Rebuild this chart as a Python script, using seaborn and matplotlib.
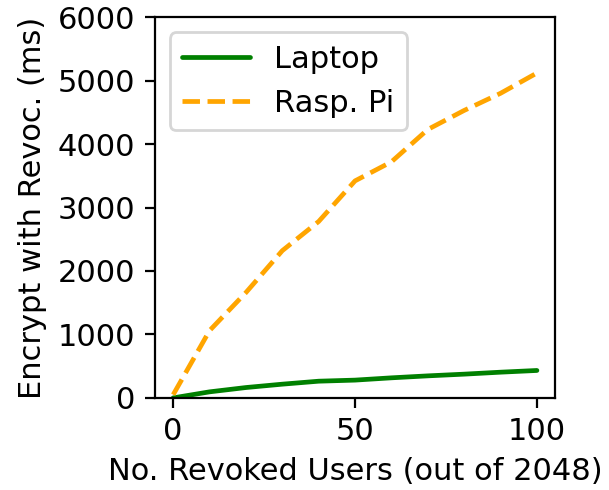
import matplotlib
matplotlib.use("Agg")
import matplotlib.pyplot as plt
import seaborn as sns
import pandas as pd

revoked = [0, 10, 20, 30, 40, 50, 60, 70, 80, 90, 100]
laptop_ms = [0, 95, 163, 216, 263, 280, 316, 347, 374, 405, 432]
raspi_ms = [50, 1060, 1660, 2320, 2780, 3420, 3720, 4230, 4530, 4800, 5120]

df = pd.DataFrame({
    "users": revoked * 2,
    "ms": laptop_ms + raspi_ms,
    "device": ["Laptop"] * len(revoked) + ["Rasp. Pi"] * len(revoked),
})

sns.set_style("ticks")
plt.rcParams.update({
    "font.family": ["DejaVu Sans"],
    "font.size": 11,
    "text.color": "black",
    "axes.labelcolor": "black",
    "xtick.color": "black",
    "ytick.color": "black",
    "axes.edgecolor": "black",
})

fig = plt.figure(figsize=(3.045, 2.45), dpi=200)
ax = fig.add_axes([0.2545, 0.188, 0.657, 0.777])

sns.lineplot(
    data=df, x="users", y="ms", hue="device", style="device",
    palette={"Laptop": "green", "Rasp. Pi": "orange"},
    dashes={"Laptop": "", "Rasp. Pi": (3.7, 1.6)},
    linewidth=1.7, ax=ax,
)

ax.set_ylim(0, 6000)
ax.set_xlim(-5, 105)
ax.set_xticks([0, 50, 100])
ax.set_yticks(range(0, 6001, 1000))
ax.set_xlabel("No. Revoked Users (out of 2048)")
ax.set_ylabel("Encrypt with Revoc. (ms)")
for s in ax.spines.values():
    s.set_visible(True)
ax.tick_params(direction="out")
leg = ax.legend(loc="upper left", frameon=True, handlelength=2.2)
leg.set_title(None)

fig.savefig("out.png", dpi=200)
